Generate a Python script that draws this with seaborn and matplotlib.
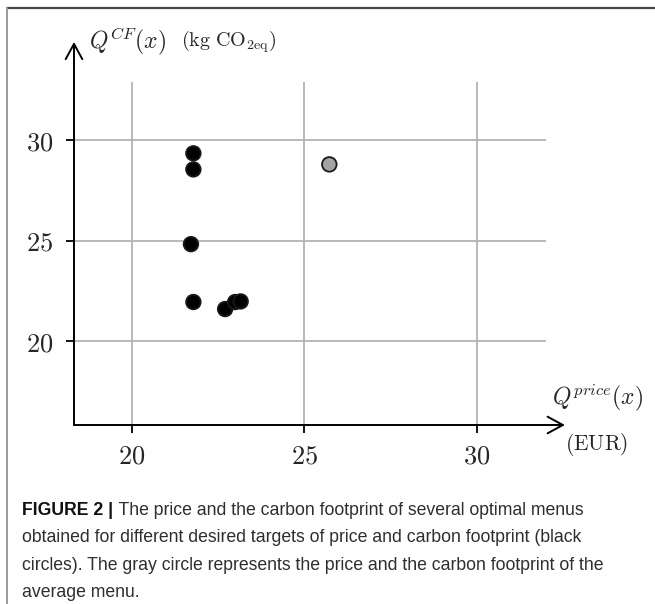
import matplotlib
matplotlib.use("Agg")
import matplotlib.pyplot as plt
import seaborn as sns
import pandas as pd
from matplotlib.lines import Line2D

# ---- data ----
price = [21.78, 21.78, 21.71, 21.78, 22.70, 22.99, 23.15, 25.72]
carbon = [29.34, 28.54, 24.82, 21.94, 21.59, 21.94, 21.97, 28.79]
kind = ["optimal"] * 7 + ["average"]
x_ticks = [20, 25, 30]
y_ticks = [20, 25, 30]
caption_bold = "FIGURE 2 |"
caption_lines = [
    " The price and the carbon footprint of several optimal menus",
    "obtained for different desired targets of price and carbon footprint (black",
    "circles). The gray circle represents the price and the carbon footprint of the",
    "average menu.",
]

df = pd.DataFrame({"price": price, "carbon": carbon, "kind": kind})

sns.set_style("white")
plt.rcParams["mathtext.fontset"] = "cm"
plt.rcParams["font.family"] = ["DejaVu Serif"]

W, H = 655, 604
fig = plt.figure(figsize=(W / 100, H / 100), dpi=100)
fig.patch.set_facecolor("white")

l, r, t, b = 74, 546, 82, 425
ax = fig.add_axes([l / W, 1 - b / H, (r - l) / W, (b - t) / H])

sns.scatterplot(data=df, x="price", y="carbon", hue="kind",
                palette={"optimal": "black", "average": "#a3a3a3"},
                s=110, edgecolor="#1a1a1a", linewidth=1.3, legend=False,
                ax=ax, zorder=5, clip_on=False)

ax.set_xlim(18.32, 32.0)
ax.set_ylim(15.82, 32.89)
ax.set_xticks(x_ticks)
ax.set_yticks(y_ticks)
ax.set_xticklabels([f"${v}$" for v in x_ticks])
ax.set_yticklabels([f"${v}$" for v in y_ticks])
ax.tick_params(axis="both", which="both", direction="out", length=6, width=1.3,
               color="black", labelsize=19, pad=7, bottom=True, left=True)
ax.tick_params(axis="y", pad=9)
ax.grid(True, color="#b3b3b3", linewidth=1.3)
ax.set_axisbelow(True)
for s in ax.spines.values():
    s.set_visible(False)
ax.set_xlabel("")
ax.set_ylabel("")

arrow = dict(arrowstyle="->,head_length=0.55,head_width=0.3", lw=1.4,
             color="black", shrinkA=0, shrinkB=0, mutation_scale=20)
ax.annotate("", xy=(0, 1.117), xytext=(0, 0), xycoords="axes fraction",
            arrowprops=arrow, annotation_clip=False)
ax.annotate("", xy=(1.040, 0), xytext=(0, 0), xycoords="axes fraction",
            arrowprops=arrow, annotation_clip=False)

# axis titles
fig.text(89 / W, 1 - 41 / H, r"$Q^{CF}(x)$", fontsize=17, ha="left", va="center")
fig.text(181 / W, 1 - 42 / H, r"$(\mathrm{kg\ CO}_{2\mathrm{eq}})$", fontsize=14.5,
         ha="left", va="center")
fig.text(598 / W, 1 - 398 / H, r"$Q^{price}(x)$", fontsize=17, ha="center", va="center")
fig.text(597 / W, 1 - 444 / H, r"$(\mathrm{EUR})$", fontsize=15.5, ha="center", va="center")

# frame lines
fig.add_artist(Line2D([7 / W, 1.0], [1 - 8 / H, 1 - 8 / H], transform=fig.transFigure,
                      color="#444444", lw=1.6))
fig.add_artist(Line2D([7 / W, 7 / W], [0, 1 - 8 / H], transform=fig.transFigure,
                      color="#9a9a9a", lw=1.4))

# caption
cap_font = dict(family=["Liberation Sans", "DejaVu Sans"], fontsize=12.7)
x0 = 22.5 / W
y0 = 1 - 515 / H
tb = fig.text(x0, y0, caption_bold, fontweight="bold", color="#111111",
              va="baseline", ha="left", **cap_font)
fig.canvas.draw()
bb = tb.get_window_extent(renderer=fig.canvas.get_renderer())
fig.text(bb.x1 / W, y0, caption_lines[0], color="#2e2e2e", va="baseline",
         ha="left", **cap_font)
for i, line in enumerate(caption_lines[1:], start=1):
    fig.text(x0, 1 - (515 + 27.3 * i) / H, line, color="#2e2e2e", va="baseline",
             ha="left", **cap_font)

fig.savefig("out.png", dpi=100, facecolor="white")
